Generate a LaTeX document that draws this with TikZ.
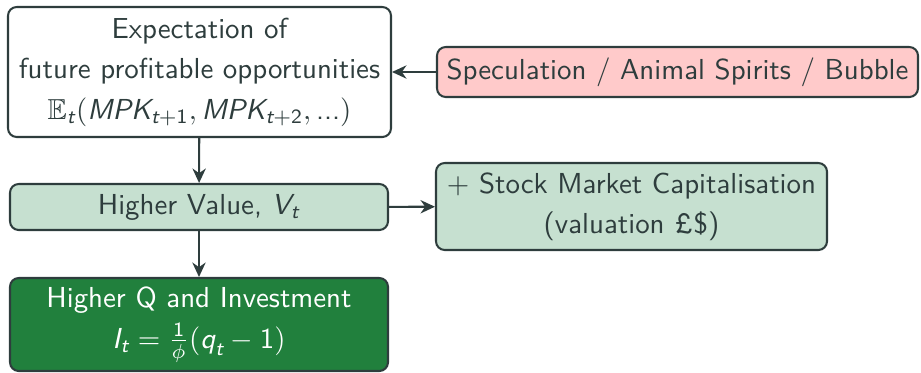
\documentclass[tikz,border=0pt]{standalone}
\usepackage{amsmath,amssymb}
\usetikzlibrary{arrows.meta}
\definecolor{ink}{HTML}{2E3D3D}
\definecolor{pinkfill}{HTML}{FFCACA}
\definecolor{lightgreen}{HTML}{C6E0D0}
\definecolor{darkgreen}{HTML}{21803D}
\newcommand{\sv}[1]{\text{\sffamily\itshape #1}}
\newcommand{\sn}[1]{\text{\sffamily #1}}
\tikzset{
  box/.style={draw=ink, line width=0.7pt, rounded corners=3pt, align=center,
    text=ink, inner sep=0pt, font={\fontsize{10}{14}\selectfont\sffamily}},
  conn/.style={draw=ink, line width=0.7pt, -{Stealth[length=5pt,width=4.6pt,inset=1.6pt]}},
}
\begin{document}
\begin{tikzpicture}[x=0.346pt,y=-0.346pt]
\useasboundingbox (0,0) rectangle (921,372);
\node[box, fill=white, minimum width=383*0.346pt, minimum height=130*0.346pt] (expect) at (199.5,72)
  {Expectation of\\future profitable opportunities\\$\mathbb{E}_{\sv{t}}(\sv{MPK}_{\sv{t}+\sn{1}},\sv{MPK}_{\sv{t}+\sn{2}},\sn{...})$};
\node[box, fill=pinkfill, minimum width=481*0.346pt, minimum height=50*0.346pt] (spec) at (677.5,72)
  {Speculation / Animal Spirits / Bubble};
\node[box, fill=lightgreen, minimum width=378*0.346pt, minimum height=46*0.346pt] (value) at (199,207)
  {Higher Value, $\sv{V}_{\sv{t}}$};
\node[box, fill=lightgreen, minimum width=391*0.346pt, minimum height=87*0.346pt] (stock) at (631.5,206.5)
  {$+$ Stock Market Capitalisation\\(valuation \pounds\$)};
\node[box, fill=darkgreen, text=white, minimum width=378*0.346pt, minimum height=93*0.346pt] (invest) at (199,324.5)
  {Higher Q and Investment\\$\sv{I}_{\sv{t}}=\frac{\sn{1}}{\phi}(\sv{q}_{\sv{t}}-\sn{1})$};
\draw[conn] (spec) -- (expect);
\draw[conn] (expect) -- (value);
\draw[conn] (value) -- (invest);
\draw[conn] (value) -- (stock);
\end{tikzpicture}
\end{document}
